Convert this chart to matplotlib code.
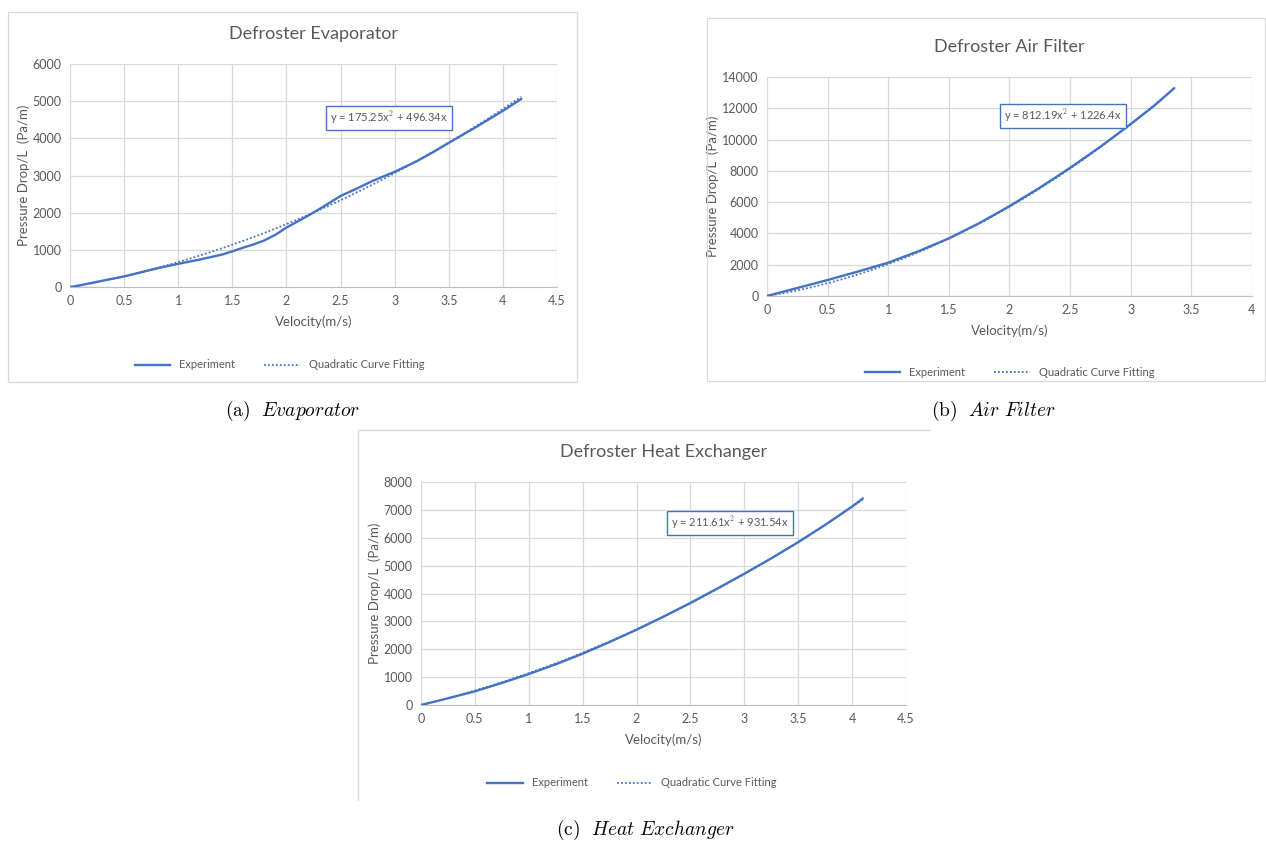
import numpy as np
import matplotlib.pyplot as plt
from matplotlib.lines import Line2D

plt.rcParams['font.family'] = ['Lato', 'DejaVu Sans']
plt.rcParams['mathtext.fontset'] = 'cm'

# Defroster Evaporator
evap_v = [0, 0.1, 0.3, 0.5, 0.8, 1.0, 1.2, 1.4, 1.5, 1.6, 1.7, 1.8, 1.9, 2.0, 2.1, 2.2, 2.3,
          2.4, 2.5, 2.65, 2.8, 3.0, 3.2, 3.35, 3.5, 3.75, 4.0, 4.17]
evap_dp = [0, 50, 170, 285, 500, 625, 740, 870, 960, 1060, 1150, 1260, 1410, 1600, 1760,
           1920, 2090, 2270, 2450, 2650, 2860, 3100, 3380, 3620, 3880, 4300, 4740, 5060]
evap_fit = [175.25, 496.34, 0]

# Defroster Air Filter
filt_v = [0, 0.25, 0.5, 0.75, 1.0, 1.25, 1.5, 1.75, 2.0, 2.25, 2.5, 2.75, 3.0, 3.2, 3.36]
filt_dp = [0, 510, 1020, 1560, 2130, 2860, 3680, 4650, 5740, 6920, 8190, 9540, 10990, 12200, 13290]
filt_fit = [812.19, 1226.4, 0]

# Defroster Heat Exchanger
hx_v = [0, 0.25, 0.5, 0.75, 1.0, 1.25, 1.5, 1.75, 2.0, 2.25, 2.5, 2.75, 3.0, 3.25, 3.5,
        3.75, 4.0, 4.1]
hx_dp = [0, 240, 490, 790, 1110, 1460, 1840, 2260, 2700, 3170, 3660, 4180, 4710, 5260, 5840,
         6460, 7120, 7410]
hx_fit = [211.61, 931.54, 0]

BLUE = '#4472C4'
TXT = '#595959'
GRID = '#D9D9D9'

fig = plt.figure(figsize=(12.66, 8.43), dpi=100)


def fx(px):
    return px / 1266


def fy(py):
    return 1 - py / 843


def panel(rect, v, dp, fit, title, xmax, ymax, ystep, eq, eq_xy, leg_x):
    ax = fig.add_axes(rect)
    v = np.array(v)
    fine = np.linspace(0, v.max(), 60)
    ax.plot(fine, np.polyval(fit, fine), color=BLUE, lw=1.3, ls=(0, (1, 1.2)), zorder=2)
    ax.plot(v, dp, color=BLUE, lw=1.7, solid_capstyle='round', zorder=3)
    ax.set_xlim(0, xmax)
    ax.set_ylim(0, ymax)
    ticks = np.arange(0, xmax + 0.01, 0.5)
    ax.set_xticks(ticks)
    ax.set_xticklabels(['%g' % t for t in ticks])
    ax.set_yticks(np.arange(0, ymax + 1, ystep))
    ax.grid(True, color=GRID, lw=0.9)
    ax.set_axisbelow(True)
    for s in ['top', 'right', 'left']:
        ax.spines[s].set_visible(False)
    ax.spines['bottom'].set_color('#BFBFBF')
    ax.tick_params(length=0, labelsize=9, colors=TXT, pad=6)
    ax.set_title(title, fontsize=13, color=TXT, pad=18)
    ax.set_xlabel('Velocity(m/s)', fontsize=9.5, color=TXT, labelpad=6)
    ax.set_ylabel('Pressure Drop/L  (Pa/m)', fontsize=9.5, color=TXT, labelpad=2)
    ax.text(eq_xy[0], eq_xy[1], eq, fontsize=8, color=TXT, ha='center', va='center',
            bbox=dict(boxstyle='square,pad=0.35', fc='white', ec=BLUE, lw=1.0))
    handles = [Line2D([], [], color=BLUE, lw=1.7),
               Line2D([], [], color=BLUE, lw=1.3, ls=(0, (1, 1.2)))]
    ax.legend(handles, ['Experiment', 'Quadratic Curve Fitting'], ncol=2, frameon=False,
              loc='upper center', bbox_to_anchor=(leg_x, -0.28), fontsize=8,
              labelcolor=TXT, columnspacing=2.6, handlelength=3.2)
    return ax


panel([0.0553, 0.6595, 0.3847, 0.2646], evap_v, evap_dp, evap_fit, 'Defroster Evaporator',
      4.5, 6000, 1000, r'y = 175.25x$^2$ + 496.34x', (2.95, 4550), 0.43)
panel([0.6058, 0.6489, 0.3831, 0.2598], filt_v, filt_dp, filt_fit, 'Defroster Air Filter',
      4, 14000, 2000, r'y = 812.19x$^2$ + 1226.4x', (2.44, 11500), 0.5)
panel([0.3325, 0.1637, 0.3831, 0.2645], hx_v, hx_dp, hx_fit, 'Defroster Heat Exchanger',
      4.5, 8000, 1000, r'y = 211.61x$^2$ + 931.54x', (2.87, 6530), 0.435)

# chart-area frames
for x0, y0, x1, y1 in [(8, 12, 577, 382), (707, 18, 1265, 381)]:
    fig.add_artist(plt.Rectangle((fx(x0), fy(y1)), fx(x1) - fx(x0), fy(y0) - fy(y1),
                                 transform=fig.transFigure, fill=False, ec=GRID, lw=0.9))
fig.add_artist(Line2D([fx(358), fx(930)], [fy(430), fy(430)], color=GRID, lw=0.9))
fig.add_artist(Line2D([fx(358), fx(358)], [fy(430), fy(800)], color=GRID, lw=0.9))

cap = dict(fontsize=14, ha='center', va='center', color='black')
fig.text(293 / 1266, 1 - 411 / 843, r'$\mathrm{(a)}\ \ \mathit{Evaporator}$', **cap)
fig.text(993 / 1266, 1 - 411 / 843, r'$\mathrm{(b)}\ \ \mathit{Air\ Filter}$', **cap)
fig.text(645 / 1266, 1 - 830 / 843, r'$\mathrm{(c)}\ \ \mathit{Heat\ Exchanger}$', **cap)

fig.savefig('out.png', dpi=100, facecolor='white')
